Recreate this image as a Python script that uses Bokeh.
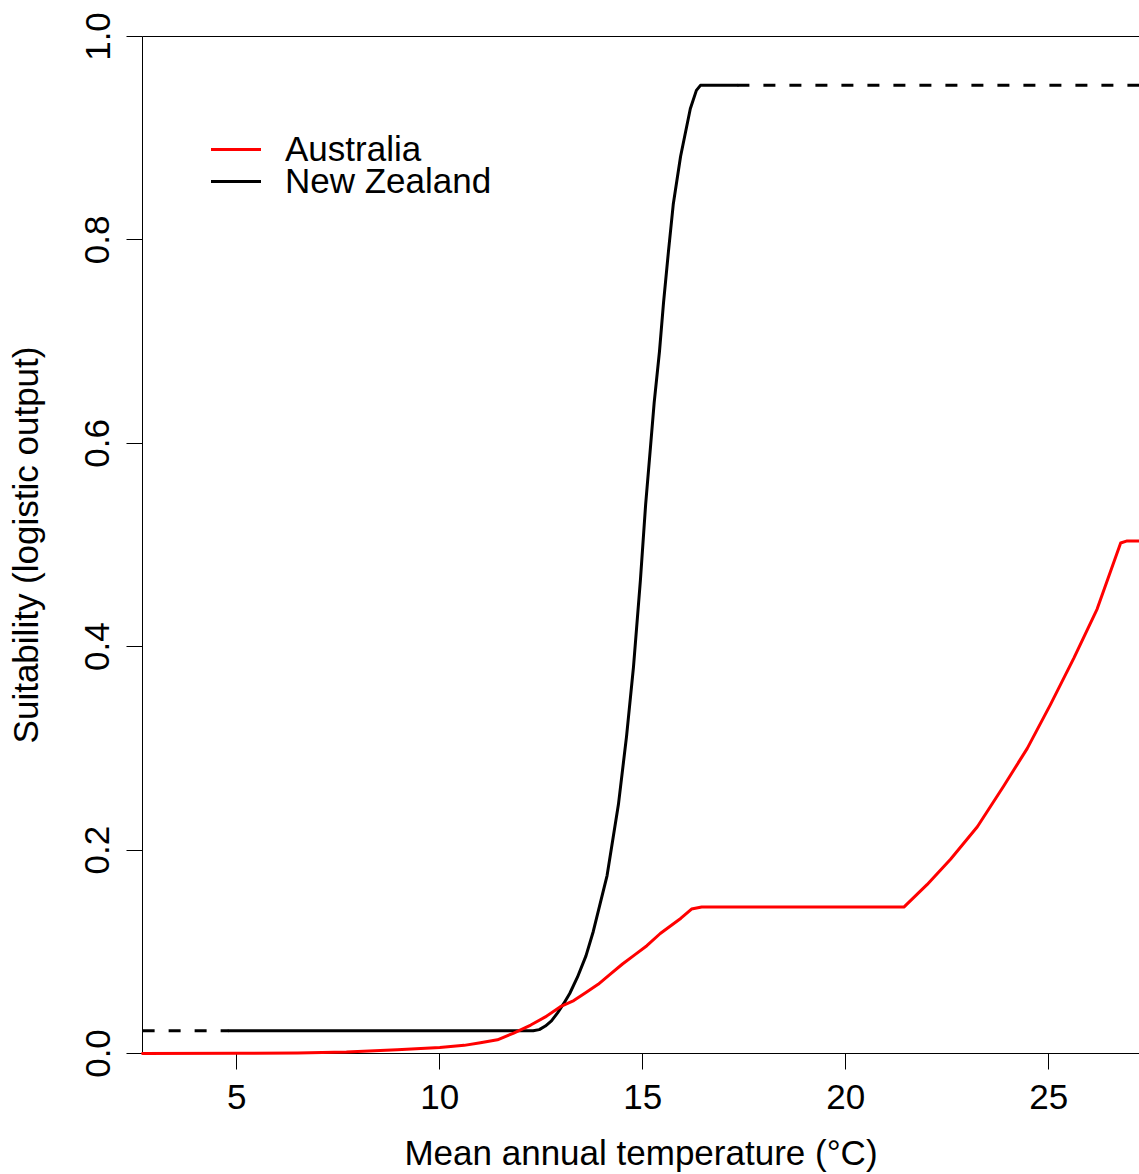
from bokeh.plotting import figure
from bokeh.models import Range1d, FixedTicker, PrintfTickFormatter, Legend, LegendItem, LinearAxis
from bokeh.embed import file_html
from bokeh.resources import INLINE

# ---- data ----
temp_ticks = [5, 10, 15, 20, 25]
suit_ticks = [0.0, 0.2, 0.4, 0.6, 0.8, 1.0]

au_temp = [2.68, 5.0, 6.5, 7.7, 8.95, 10.0, 10.6, 11.0, 11.42, 11.82, 12.24, 12.6, 12.97,
           13.3, 13.6, 13.9, 14.2, 14.5, 14.8, 15.1, 15.43, 15.94, 16.2, 16.45, 21.43,
           22.0, 22.58, 23.24, 23.89, 24.47, 25.04, 25.62, 26.19, 26.77, 26.93, 27.23]
au_suit = [0.0, 0.0002, 0.0006, 0.0015, 0.0036, 0.006, 0.008, 0.0105, 0.0135, 0.020, 0.028, 0.036, 0.046,
           0.052, 0.060, 0.068, 0.078, 0.088, 0.097, 0.106, 0.118, 0.133, 0.142, 0.144, 0.144,
           0.166, 0.191, 0.223, 0.263, 0.300, 0.343, 0.389, 0.437, 0.502, 0.504, 0.504]

nz_temp = [4.80, 12.30, 12.45, 12.60, 12.75, 12.90, 13.05, 13.20, 13.39, 13.60, 13.78, 14.12,
           14.40, 14.60, 14.77, 14.94, 15.07, 15.18, 15.28, 15.41, 15.51, 15.63, 15.75, 15.93,
           16.17, 16.32, 16.42, 17.33]
nz_suit = [0.0223, 0.0223, 0.0235, 0.027, 0.032, 0.040, 0.049, 0.059, 0.075, 0.096, 0.120, 0.175,
           0.245, 0.312, 0.380, 0.465, 0.540, 0.592, 0.640, 0.690, 0.738, 0.788, 0.835, 0.882,
           0.929, 0.947, 0.952, 0.952]

# extrapolated (dashed) parts of the New Zealand curve
nz_low_temp = [2.68, 4.80]
nz_low_suit = [0.0223, 0.0223]
nz_high_temp = [17.33, 27.23]
nz_high_suit = [0.952, 0.952]

FONT = "Liberation Sans"
FS = "35px"

p = figure(width=1139, height=1174, output_backend="svg", toolbar_location=None,
           x_range=Range1d(2.677, 27.234), y_range=Range1d(0, 1),
           min_border_left=142, min_border_top=36, min_border_right=0, min_border_bottom=0)
p.grid.visible = False
p.outline_line_color = None
p.background_fill_color = "white"
p.border_fill_color = "white"

# axes
xa = p.xaxis[0]
xa.ticker = FixedTicker(ticks=temp_ticks)
xa.formatter = PrintfTickFormatter(format="%d")
xa.axis_label = "Mean annual temperature (°C)"
ya = p.yaxis[0]
ya.ticker = FixedTicker(ticks=suit_ticks)
ya.formatter = PrintfTickFormatter(format="%.1f")
ya.axis_label = "Suitability (logistic output)"
ya.major_label_orientation = "vertical"

for ax in (xa, ya):
    ax.major_tick_in = 0
    ax.major_tick_out = 16
    ax.minor_tick_in = 0
    ax.minor_tick_out = 0
    ax.axis_line_color = "black"
    ax.axis_line_width = 1
    ax.major_tick_line_color = "black"
    ax.major_tick_line_width = 1
    ax.major_label_text_font = FONT
    ax.major_label_text_font_size = FS
    ax.major_label_text_color = "black"
    ax.axis_label_text_font = FONT
    ax.axis_label_text_font_size = FS
    ax.axis_label_text_font_style = "normal"
    ax.axis_label_text_color = "black"

xa.major_label_standoff = 15
xa.axis_label_standoff = 21
ya.major_label_standoff = 17
ya.axis_label_standoff = 38

# top border line (plain axis line, no ticks or labels)
top = LinearAxis(ticker=FixedTicker(ticks=[]), major_tick_in=0, major_tick_out=0,
                 minor_tick_in=0, minor_tick_out=0, major_label_text_font_size="0px",
                 major_label_standoff=0, axis_line_color="black", axis_line_width=1)
p.add_layout(top, "above")

# curves
r_nz_low = p.line(nz_low_temp, nz_low_suit, line_color="black", line_width=3, line_dash="12 14")
r_nz_high = p.line(nz_high_temp, nz_high_suit, line_color="black", line_width=3, line_dash="12 14")
r_nz = p.line(nz_temp, nz_suit, line_color="black", line_width=3, line_join="round", line_cap="round")
r_au = p.line(au_temp, au_suit, line_color="#ff0000", line_width=3, line_join="round", line_cap="round")
r_au.level = "overlay"

def make_legend(label, rend, y):
    leg = Legend(items=[LegendItem(label=label, renderers=[rend])], location=(69, y),
                 padding=0, margin=0, spacing=0, border_line_color=None,
                 background_fill_alpha=0, glyph_width=50, glyph_height=20,
                 label_standoff=24, label_text_font=FONT, label_text_font_size=FS,
                 label_text_color="black")
    return leg

p.add_layout(make_legend("Australia", r_au, 884))
p.add_layout(make_legend("New Zealand", r_nz, 852))

open("out.html", "w").write(file_html(p, INLINE))
